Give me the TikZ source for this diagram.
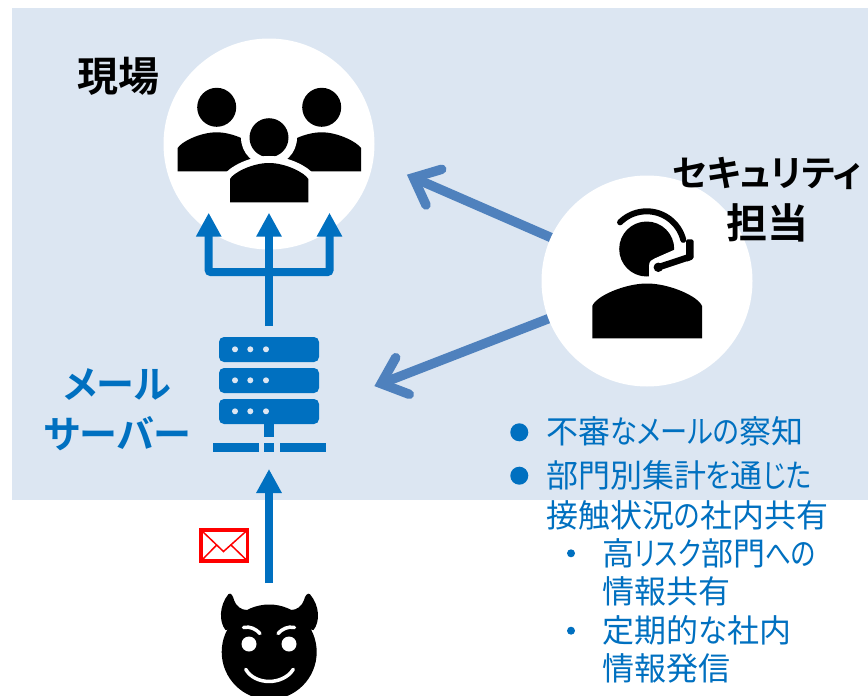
\documentclass[tikz,border=0pt]{standalone}
\usepackage{fontspec}
\usepackage{graphicx}
\usetikzlibrary{arrows.meta}
\newfontfamily\jpb[RawFeature={+palt}]{Noto Sans CJK JP Bold}
\newfontfamily\jpr[RawFeature={+palt}]{Noto Sans CJK JP}
\newcommand{\nk}[2][0.92]{\scalebox{#1}[1]{#2}}
\definecolor{bgblue}{HTML}{DCE6F2}
\definecolor{mainblue}{HTML}{0070C0}
\definecolor{steel}{HTML}{4F81BD}
\tikzset{
  x=1pt,y=-1pt,
  headlabel/.style={font=\jpb\fontsize{41}{52}\selectfont,align=center,inner sep=0pt,text=black},
  bluelabel/.style={font=\jpb\fontsize{38}{50}\selectfont,align=center,inner sep=0pt,text=mainblue},
  bodytext/.style={font=\jpr\fontsize{32}{38}\selectfont,anchor=west,inner sep=0pt,text=mainblue},
  whitecircle/.style={circle,fill=white,draw=none,minimum size=211pt,inner sep=0pt},
  stem/.style={draw=mainblue,line width=8pt},
  fanarrow/.style={draw=mainblue,line width=8pt,-{Triangle[length=24pt,width=24pt]}},
  shaft/.style={draw=steel,line width=9.5pt},
  barb/.style={draw=steel,line width=9.5pt,line cap=round,miter limit=10},
  ico/.style={fill=black,draw=none},
  srv/.style={fill=mainblue,draw=none,rounded corners=5pt},
  srvb/.style={fill=mainblue,draw=none},
  dot/.style={fill=bgblue,draw=none},
  whiteline/.style={draw=white,line cap=round},
}
\begin{document}
\begin{tikzpicture}
\useasboundingbox (0,0) rectangle (868,696);
\fill[white] (0,0) rectangle (868,696);
\fill[bgblue] (12,8) rectangle (868,500);
% connectors behind the circles
\coordinate (secA) at (560,241.5);
\coordinate (secB) at (560,314.2);
\coordinate (fieldT) at (413.5,177.7);
\coordinate (srvT) at (381.2,383.6);
\draw[shaft] (secA) -- (fieldT);
\draw[shaft] (secB) -- (srvT);
\draw[barb] (441.7,169.3) -- (fieldT) -- (426,205);
\draw[barb] (395.7,357.7) -- (srvT) -- (409.3,394.3);
\node[whitecircle] (field) at (269,144) {};
\node[whitecircle] (sec) at (647,281) {};
% people
\fill[ico] (216.7,107.3) circle (19.5);
\fill[ico] (321.7,107.3) circle (19.5);
\fill[ico] (177.7,171.3) -- (177.7,148) .. controls (181,142) and (200,132.3) .. (216.7,132.3) .. controls (233,132.3) and (252,142) .. (256,148) -- (256,171.3) -- cycle;
\fill[ico] (282.7,171.3) -- (282.7,148) .. controls (286,142) and (305,132.3) .. (321.7,132.3) .. controls (338,132.3) and (357,142) .. (361,148) -- (361,171.3) -- cycle;
\fill[white] (269,137.7) circle (28);
\fill[ico] (269,137.7) circle (19.5);
\path[fill=black,draw=white,line width=14pt] (230,202.3) -- (230,179) .. controls (233,173) and (252,163) .. (269,163) .. controls (286,163) and (305,173) .. (308.3,179) -- (308.3,202.3) -- cycle;
\fill[white] (215,195.3) rectangle (323,212);
\fill[ico] (230,202.3) -- (230,179) .. controls (233,173) and (252,163) .. (269,163) .. controls (286,163) and (305,173) .. (308.3,179) -- (308.3,202.3) -- cycle;
% operator
\fill[ico] (592.3,338.3) -- (592.3,306) .. controls (596,296) and (625,283.5) .. (647,283.5) .. controls (669,283.5) and (698,296) .. (702,306) -- (702,338.3) -- cycle;
\fill[ico] (646.7,249) circle (27.5);
\fill[white] (649,280) -- (649,266) .. controls (649,261) and (652,259.5) .. (655,258.3) -- (675,249.5) -- (680,280) -- cycle;
\draw[black,line width=6pt,line cap=round] plot[smooth,domain=-135:-14,samples=30] ({646.7+37.7*cos(\x)},{249+37.7*sin(\x)});
\fill[ico,rounded corners=1.5pt] (686,239.3) -- (693.5,239.3) -- (693.5,259) -- (686,262) -- cycle;
\draw[black,line width=6.5pt,line cap=round] (658.3,267.3) -- (690,256.8);
\fill[ico] (658.3,267.3) circle (4.7);
% server
\fill[srv] (219,337) rectangle (319,362);
\fill[srv] (219,368) rectangle (319,393);
\fill[srv] (219,399) rectangle (319,424);
\foreach \yy in {349.3,380.3,411.3}{
  \foreach \xx in {235,250.3,266}{ \fill[dot] (\xx,\yy) circle (3); }
}
\fill[srvb] (264,424) rectangle (274,437);
\fill[srvb] (213,442.5) rectangle (258.5,452);
\fill[srvb] (264,442.5) rectangle (274,452);
\fill[srvb] (280,442.5) rectangle (326,452);
% connectors
\coordinate (srvtop) at (269,326);
\coordinate (junction) at (269,272);
\coordinate (c1) at (208.7,212.7);
\coordinate (c2) at (269,212.7);
\coordinate (c3) at (329.5,212.7);
\draw[stem] (srvtop) -- (junction);
\draw[fanarrow] (junction) -- (c2);
\draw[fanarrow,rounded corners=2pt] (junction) -- (208.7,272) -- (c1);
\draw[fanarrow,rounded corners=2pt] (junction) -- (329.5,272) -- (c3);
\coordinate (devil) at (269,583);
\coordinate (srvB) at (269,469);
\draw[fanarrow] (devil) -- (srvB);
% mail
\draw[red,line width=3.5pt,fill=white] (201,530) rectangle (247.5,561);
\draw[red,line width=1.5pt] (201,530) -- (223.5,551.5) -- (247.5,530);
\draw[red,line width=1.5pt] (201.5,560.5) -- (216.7,545);
\draw[red,line width=1.5pt] (247,560.5) -- (231,545);
% devil
\begin{scope}
\clip (200,590) rectangle (340,696);
\fill[ico] (269.2,652) circle (47.5);
\fill[ico] (228.3,594.3) .. controls (231,592) and (233,596) .. (234,600) .. controls (236,606) and (241,610) .. (247,610) -- (250,625) -- (225.5,630) .. controls (219,622) and (219,606) .. (228.3,594.3) -- cycle;
\fill[ico] (310,594.3) .. controls (307.5,592) and (305,596) .. (304,600) .. controls (302,606) and (297,610) .. (291,610) -- (288,625) -- (313.5,630) .. controls (320,622) and (320,606) .. (310,594.3) -- cycle;
\end{scope}
\fill[white] (249,644) circle (7.5);
\fill[white] (289,644) circle (7.5);
\draw[whiteline,line width=3.5pt] (243.5,627.5) .. controls (250,626) and (256,629) .. (260,633.5);
\draw[whiteline,line width=3.5pt] (294.5,627.5) .. controls (288,626) and (282,629) .. (278,633.5);
\draw[whiteline,line width=3.5pt] (245.7,669.3) .. controls (255,685.5) and (283,685.5) .. (293.3,669.3);
% labels
\node[headlabel] (tgenba) at (118.5,76.5) {現場};
\node[headlabel] (tsec) at (767,199.5) {\fontsize{36}{52}\selectfont セキュリティ\\\fontsize{41}{52}\selectfont 担当};
\node[bluelabel] (tsrv) at (117.5,410) {メール\\サーバー};
% list
\fill[mainblue] (519.3,432.3) circle (9);
\fill[mainblue] (519.3,475.7) circle (9);
\node[bodytext] (l1) at (546,431.7) {不審\nk[0.85]{なメールの}察知};
\node[bodytext] (l2) at (546,475) {部門別集計\nk[0.83]{を}通\nk[0.83]{じた}};
\node[bodytext] (l3) at (546,515) {接触状況\nk[0.84]{の}社内共有};
\fill[mainblue] (571,553.3) circle (4);
\node[bodytext] (l4) at (602,553) {高\nk[0.8]{リスク}部門\nk[0.8]{への}};
\node[bodytext] (l5) at (602,591.7) {情報共有};
\fill[mainblue] (571,630.7) circle (4);
\node[bodytext] (l6) at (602,630) {定期的\nk[0.92]{な}社内};
\node[bodytext] (l7) at (602,668) {情報発信};
\end{tikzpicture}
\end{document}
